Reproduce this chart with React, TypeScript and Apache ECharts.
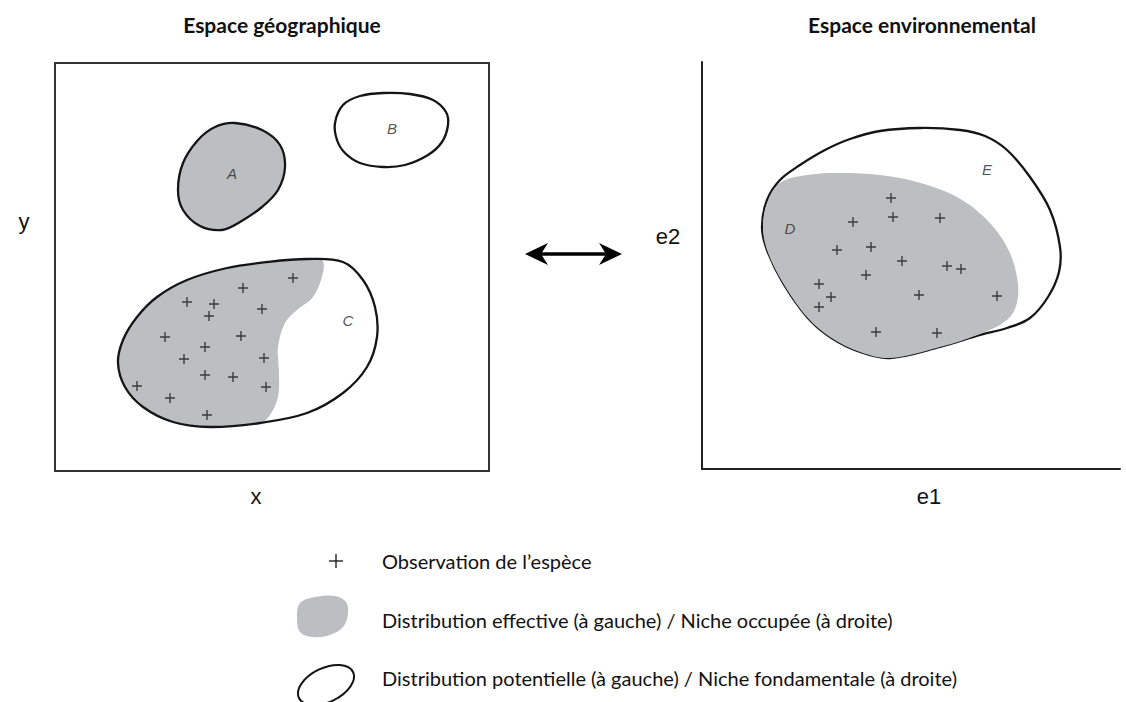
import React, { useEffect, useRef } from "react";
import * as echarts from "echarts";

// ---------- texts ----------
const titles = ["Espace géographique", "Espace environnemental"];
const axisNames = ["x", "y", "e1", "e2"];
const legendTexts = [
  "Observation de l’espèce",
  "Distribution effective (à gauche) / Niche occupée (à droite)",
  "Distribution potentielle (à gauche) / Niche fondamentale (à droite)",
];

// ---------- geographic space (left panel), data units ----------
const geoXMax = 434;
const geoYMax = 408;

const blobA: number[][] = [
  [180, 348], [207, 341], [225, 326], [230, 304], [223, 281], [207, 264], [185, 249],
  [167, 241], [145, 245], [128, 261], [123, 281], [128, 308], [143, 331], [160, 344],
];
const blobB: number[][] = [
  [280, 348], [288, 366], [305, 375], [328, 378], [355, 377], [378, 371], [391, 359], [393, 346],
  [387, 329], [373, 316], [350, 306], [328, 304], [305, 308], [290, 318], [282, 331],
];
const blobC: number[][] = [
  [63, 108], [68, 131], [82, 154], [102, 174], [132, 191], [172, 203], [212, 209], [252, 212],
  [288, 209], [308, 191], [320, 164], [322, 134], [312, 104], [288, 78], [252, 58], [205, 48],
  [155, 44], [118, 49], [88, 64], [70, 84],
];
const grayC: number[][] = [
  [267, 211], [268, 198], [258, 174], [242, 161], [230, 148], [223, 124], [224, 98], [223, 74],
  [215, 56], [205, 48], [155, 44], [118, 49], [88, 64], [70, 84], [63, 108], [68, 131],
  [82, 154], [102, 174], [132, 191], [172, 203], [212, 209], [252, 212],
];
const obsGeo: number[][] = [
  [238, 193], [188, 183], [132, 169], [159, 167], [207, 162], [154, 155], [110, 134], [186, 135],
  [150, 124], [129, 112], [209, 113], [150, 96], [178, 94], [82, 85], [211, 84], [115, 73], [152, 56],
];
const labelsGeo = [
  { name: "A", value: [177, 298] },
  { name: "B", value: [337, 343] },
  { name: "C", value: [293, 151] },
];

// ---------- environmental space (right panel), data units ----------
const envXMax = 418;
const envYMax = 407;

const nicheE: number[][] = [
  [60, 242], [65, 269], [78, 289], [98, 304], [123, 319], [148, 330], [178, 338], [218, 341],
  [258, 339], [283, 333], [305, 319], [328, 292], [348, 259], [358, 222], [357, 197], [346, 172],
  [328, 151], [305, 141], [278, 134], [238, 122], [188, 111], [158, 117], [128, 132], [105, 152],
  [81, 186], [65, 219],
];
const nicheD: number[][] = [
  [65, 266], [78, 286], [105, 294], [138, 296], [178, 294], [215, 287], [255, 272], [285, 249],
  [305, 222], [315, 192], [315, 166], [305, 149], [278, 135], [238, 122], [188, 111], [158, 117],
  [128, 132], [105, 152], [81, 186], [65, 219], [61, 242],
];
const obsEnv: number[][] = [
  [189, 271], [191, 252], [151, 247], [238, 251], [135, 219], [169, 222], [200, 208], [245, 203],
  [259, 200], [164, 194], [117, 185], [129, 172], [117, 162], [217, 174], [295, 173], [174, 137],
  [235, 136],
];
const labelsEnv = [
  { name: "D", value: [88, 241] },
  { name: "E", value: [285, 300] },
];

// ---------- styling ----------
const GRAY = "#bcbec1";
const INK = "#151515";
const PLUS = "path://M4.3,0H5.7V4.3H10V5.7H5.7V10H4.3V5.7H0V4.3H4.3Z";

function shapeSeries(pts: number[][], idx: number, fill: string, stroke: string | null, z: number) {
  return {
    type: "custom",
    xAxisIndex: idx,
    yAxisIndex: idx,
    data: pts,
    z,
    silent: true,
    clip: false,
    renderItem: (params: any, api: any) => {
      if (params.dataIndex !== 0) return null;
      const points = pts.map((p) => api.coord(p));
      return {
        type: "polygon",
        shape: { points, smooth: 0.35 },
        style: stroke
          ? { fill, stroke, lineWidth: 2.3 }
          : { fill, stroke: "none", lineWidth: 0 },
      };
    },
  };
}

function obsSeries(pts: number[][], idx: number) {
  return {
    type: "scatter",
    xAxisIndex: idx,
    yAxisIndex: idx,
    data: pts,
    symbol: PLUS,
    symbolSize: 10,
    itemStyle: { color: "#1c1c1c" },
    z: 6,
    silent: true,
  };
}

function labelSeries(items: any[], idx: number) {
  return {
    type: "scatter",
    xAxisIndex: idx,
    yAxisIndex: idx,
    data: items,
    symbolSize: 1,
    itemStyle: { color: "rgba(0,0,0,0)" },
    z: 7,
    silent: true,
    label: {
      show: true,
      position: "inside",
      formatter: "{b}",
      fontStyle: "italic",
      fontSize: 15,
      fontFamily: "Liberation Sans",
      color: "#2a2a2a",
    },
  };
}

const hiddenAxis = {
  axisLine: { show: false },
  axisTick: { show: false },
  axisLabel: { show: false },
  splitLine: { show: false },
};
const drawnAxis = {
  axisLine: { show: true, onZero: false, lineStyle: { color: "#222", width: 2 } },
  axisTick: { show: false },
  axisLabel: { show: false },
  splitLine: { show: false },
};

function txt(x: number, y: number, text: string, font: string, align = "center", vAlign = "middle") {
  return {
    type: "text",
    x,
    y,
    silent: true,
    style: { text, font, fill: "#111", align, verticalAlign: vAlign, textAlign: align, textVerticalAlign: vAlign },
  };
}

export default function App() {
  const ref = useRef<HTMLDivElement>(null);
  useEffect(() => {
    if (!ref.current) return;
    const chart = echarts.init(ref.current, null, { renderer: "svg" });
    const axisFont = '22px "Liberation Sans", Arial, sans-serif';
    const titleFont = 'bold 21px Lato, "Open Sans", sans-serif';
    const legendFont = '20px Lato, "Open Sans", sans-serif';
    chart.setOption({
      animation: false,
      backgroundColor: "#ffffff",
      grid: [
        { left: 55, top: 63, width: 434, height: 408, show: true, borderColor: "#333", borderWidth: 2, backgroundColor: "transparent" },
        { left: 702, top: 62, width: 418, height: 407, show: false },
      ],
      xAxis: [
        { type: "value", gridIndex: 0, min: 0, max: geoXMax, ...hiddenAxis },
        { type: "value", gridIndex: 1, min: 0, max: envXMax, ...drawnAxis },
      ],
      yAxis: [
        { type: "value", gridIndex: 0, min: 0, max: geoYMax, ...hiddenAxis },
        { type: "value", gridIndex: 1, min: 0, max: envYMax, ...drawnAxis },
      ],
      series: [
        shapeSeries(grayC, 0, GRAY, null, 2),
        shapeSeries(blobA, 0, GRAY, INK, 3),
        shapeSeries(blobB, 0, "#ffffff", INK, 3),
        shapeSeries(blobC, 0, "none", INK, 4),
        obsSeries(obsGeo, 0),
        labelSeries(labelsGeo, 0),
        shapeSeries(nicheE, 1, "#ffffff", INK, 2),
        shapeSeries(nicheD, 1, GRAY, null, 3),
        obsSeries(obsEnv, 1),
        labelSeries(labelsEnv, 1),
      ],
      graphic: [
        txt(282, 24, titles[0], titleFont),
        txt(922, 24, titles[1], titleFont),
        txt(256, 507, axisNames[0], axisFont, "center", "bottom"),
        txt(24, 232, axisNames[1], axisFont, "center", "bottom"),
        txt(929, 507, axisNames[2], axisFont, "center", "bottom"),
        txt(668, 247, axisNames[3], axisFont, "center", "bottom"),
        // double arrow
        { type: "line", silent: true, shape: { x1: 540, y1: 254, x2: 607, y2: 254 }, style: { stroke: "#000", lineWidth: 3.5 } },
        { type: "polygon", silent: true, shape: { points: [[525, 254], [548, 243], [541, 254], [548, 265]] }, style: { fill: "#000" } },
        { type: "polygon", silent: true, shape: { points: [[622, 254], [599, 243], [606, 254], [599, 265]] }, style: { fill: "#000" } },
        // legend glyphs
        { type: "line", silent: true, shape: { x1: 329, y1: 561, x2: 343, y2: 561 }, style: { stroke: "#111", lineWidth: 1.3 } },
        { type: "line", silent: true, shape: { x1: 336, y1: 554, x2: 336, y2: 568 }, style: { stroke: "#111", lineWidth: 1.3 } },
        {
          type: "polygon",
          silent: true,
          shape: {
            points: [[300, 603], [315, 597], [335, 596], [346, 602], [348, 614], [343, 627], [330, 635], [312, 637], [300, 632], [297, 617]],
            smooth: 0.35,
          },
          style: { fill: GRAY },
        },
        {
          type: "ellipse",
          silent: true,
          x: 326,
          y: 685,
          rotation: 0.45,
          shape: { cx: 0, cy: 0, rx: 30, ry: 17 },
          style: { fill: "none", stroke: INK, lineWidth: 2 },
        },
        txt(382, 561, legendTexts[0], legendFont, "left", "middle"),
        txt(382, 620, legendTexts[1], legendFont, "left", "middle"),
        txt(382, 678, legendTexts[2], legendFont, "left", "middle"),
      ],
    });
    return () => chart.dispose();
  }, []);
  return (
    <div
      ref={ref}
      style={{ position: "fixed", left: 0, top: 0, width: 1126, height: 702, background: "#fff" }}
    />
  );
}
